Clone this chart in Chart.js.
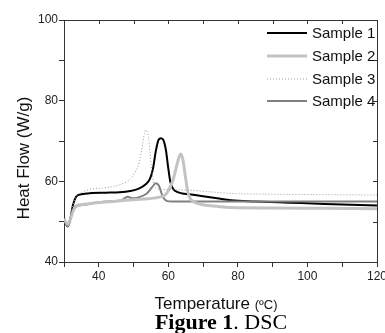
<!DOCTYPE html>
<html>
<head>
<meta charset="utf-8">
<script src="https://cdn.jsdelivr.net/npm/chart.js@4"></script>
<style>
  body { margin: 0; background: #fff; }
  canvas { display: block; }
</style>
</head>
<body>
<canvas id="dsc" width="385" height="333"></canvas>
<script>
// series data (temperature in C, heat flow in W/g)
const seriesNames = ['Sample 1', 'Sample 2', 'Sample 3', 'Sample 4'];

const s1x = [30, 30.6, 31.1, 31.8, 32.6, 33.5, 35, 38, 42, 46, 49, 51.5, 53.5, 54.7, 55.6, 56.4, 57.2, 57.9, 58.6, 59.3, 59.9, 60.6, 61.4, 62.5, 64, 66, 70, 74, 78, 85, 95, 105, 120];
const s1y = [50.2, 49.3, 48.8, 50.6, 54.2, 56.2, 56.8, 57.1, 57.2, 57.3, 57.6, 58.2, 59.3, 60.6, 63.2, 67.5, 70.3, 70.7, 70.2, 67.8, 63.8, 59.8, 58.1, 57.4, 57.0, 56.8, 56.3, 55.8, 55.3, 55.0, 54.7, 54.4, 54.0];

const s2x = [30, 30.6, 31.1, 31.8, 32.6, 33.5, 36, 39.3, 44, 48.8, 53, 56.4, 58, 59.3, 60.3, 61.3, 62.3, 63, 63.6, 64.2, 64.9, 65.6, 66.4, 67.5, 70, 74, 78, 90, 105, 120];
const s2y = [50.7, 49.8, 49.3, 50.5, 52.6, 53.9, 54.3, 54.7, 55.0, 55.4, 55.6, 55.9, 56.2, 56.8, 58.2, 60.2, 63.5, 65.8, 66.8, 65.3, 61.2, 57.4, 55.6, 54.8, 54.2, 53.8, 53.5, 53.4, 53.3, 53.2];

const s3x = [30, 30.6, 31.1, 31.8, 32.6, 33.5, 35, 37.3, 41, 44, 46.5, 48.8, 50.3, 51.6, 52.5, 53.1, 53.5, 54, 54.5, 55, 55.5, 55.9, 56.6, 57.8, 62, 66, 72, 78, 90, 105, 120];
const s3y = [50.2, 49.3, 48.8, 50.6, 54.2, 56.2, 57.2, 58.0, 58.3, 58.7, 59.3, 60.3, 62.0, 64.6, 68.5, 71.8, 72.7, 72.0, 69.5, 64.5, 61.2, 59.1, 58.3, 58.0, 57.9, 57.8, 57.4, 57.0, 56.8, 56.7, 56.6];

const s4x = [30, 30.6, 31.1, 31.8, 32.6, 33.5, 36, 39.3, 44, 46.5, 48.3, 49.3, 50.2, 52, 53.8, 55.2, 56.4, 57.3, 58.3, 59.1, 59.7, 61, 65, 75, 90, 105, 120];
const s4y = [50.4, 49.4, 48.9, 50.6, 52.8, 53.7, 54.2, 54.7, 55.1, 55.3, 56.2, 55.9, 55.8, 56.2, 57.0, 58.4, 59.5, 58.9, 56.4, 55.4, 55.1, 55.0, 55.0, 55.0, 55.0, 55.0, 55.0];

const xTicks = [40, 60, 80, 100, 120];
const yTicks = [40, 60, 80, 100];

function pts(xs, ys) {
    return xs.map((x, i) => ({ x: x, y: ys[i] }));
}

const styles = [
    { color: '#000000', width: 2, dash: [] },
    { color: '#c3c3c3', width: 3, dash: [] },
    { color: '#9a9a9a', width: 1, dash: [1, 2] },
    { color: '#808080', width: 2, dash: [] }
];
const allData = [pts(s1x, s1y), pts(s2x, s2y), pts(s3x, s3y), pts(s4x, s4y)];

// draw order: lighter ones under the black curve
const order = [2, 1, 3, 0];
const datasets = order.map(i => ({
    label: seriesNames[i],
    data: allData[i],
    borderColor: styles[i].color,
    borderWidth: styles[i].width,
    borderDash: styles[i].dash,
    pointRadius: 0,
    fill: false,
    cubicInterpolationMode: 'monotone'
}));

// frame, inner ticks, legend and titles
const decor = {
    id: 'decor',
    afterDraw(chart) {
        const ctx = chart.ctx;
        const ca = chart.chartArea;
        const xs = chart.scales.x;
        const ys = chart.scales.y;
        ctx.save();
        ctx.strokeStyle = '#333';
        ctx.lineWidth = 1;
        ctx.beginPath();
        ctx.moveTo(ca.left, ca.top + 0.5);
        ctx.lineTo(ca.right + 0.5, ca.top + 0.5);
        ctx.lineTo(ca.right + 0.5, ca.bottom);
        xs.ticks.forEach(t => {
            const px = Math.round(xs.getPixelForValue(t.value)) + 0.5;
            ctx.moveTo(px, ca.top);
            ctx.lineTo(px, ca.top + 4);
        });
        ys.ticks.forEach(t => {
            const py = Math.round(ys.getPixelForValue(t.value)) + 0.5;
            ctx.moveTo(ca.right, py);
            ctx.lineTo(ca.right - 4, py);
        });
        ctx.stroke();

        // legend
        const rows = [33, 56, 79, 101];
        for (let i = 0; i < 4; i++) {
            const st = styles[i];
            ctx.strokeStyle = st.color;
            ctx.lineWidth = st.width;
            ctx.setLineDash(st.dash);
            ctx.beginPath();
            ctx.moveTo(267, rows[i]);
            ctx.lineTo(307, rows[i]);
            ctx.stroke();
            ctx.setLineDash([]);
            ctx.fillStyle = '#111';
            ctx.font = '15px "Liberation Sans", Arial, sans-serif';
            ctx.textAlign = 'left';
            ctx.textBaseline = 'middle';
            ctx.fillText(seriesNames[i], 312, rows[i] + 1);
        }

        // y title
        ctx.fillStyle = '#111';
        ctx.save();
        ctx.translate(29, 158);
        ctx.rotate(-Math.PI / 2);
        ctx.font = '17px "Liberation Sans", Arial, sans-serif';
        ctx.textAlign = 'center';
        ctx.textBaseline = 'alphabetic';
        ctx.fillText('Heat Flow (W/g)', 0, 0);
        ctx.restore();

        // x title, unit in a smaller size
        ctx.textBaseline = 'alphabetic';
        ctx.textAlign = 'left';
        const big = '17px "Liberation Sans", Arial, sans-serif';
        const small = '13px "Liberation Sans", Arial, sans-serif';
        ctx.font = big;
        const w1 = ctx.measureText('Temperature ').width;
        ctx.font = small;
        const w2 = ctx.measureText('(\u00baC)').width;
        let x0 = 216 - (w1 + w2) / 2;
        ctx.font = big;
        ctx.fillText('Temperature ', x0, 309);
        ctx.font = small;
        ctx.fillText('(\u00baC)', x0 + w1, 309);

        // caption
        const bold = 'bold 22px "Liberation Serif", "Times New Roman", serif';
        const reg = '22px "Liberation Serif", "Times New Roman", serif';
        ctx.font = bold;
        const c1 = ctx.measureText('Figure 1').width;
        ctx.font = reg;
        const c2 = ctx.measureText('. DSC').width;
        x0 = 221 - (c1 + c2) / 2;
        ctx.fillStyle = '#000';
        ctx.font = bold;
        ctx.fillText('Figure 1', x0, 329);
        ctx.font = reg;
        ctx.fillText('. DSC', x0 + c1, 329);
        ctx.restore();
    }
};

new Chart(document.getElementById('dsc').getContext('2d'), {
    type: 'line',
    data: { datasets: datasets },
    options: {
        responsive: false,
        animation: false,
        layout: { padding: { top: 20, right: 8, left: 0, bottom: 0 } },
        scales: {
            x: {
                type: 'linear',
                min: 30,
                max: 120,
                afterFit: (s) => { s.height = 71; s.paddingLeft = 0; s.paddingRight = 0; },
                border: { display: true, color: '#333', width: 1 },
                grid: { drawOnChartArea: false, drawTicks: true, tickLength: 5, color: '#333' },
                ticks: {
                    stepSize: 10,
                    autoSkip: false,
                    maxRotation: 0,
                    padding: 2,
                    color: '#222',
                    font: { family: '"Liberation Sans", Arial, sans-serif', size: 12 },
                    callback: (v) => xTicks.includes(v) ? String(v) : ''
                }
            },
            y: {
                min: 40,
                max: 100,
                afterFit: (s) => { s.width = 64; s.paddingTop = 0; s.paddingBottom = 0; },
                border: { display: true, color: '#333', width: 1 },
                grid: { drawOnChartArea: false, drawTicks: true, tickLength: 5, color: '#333' },
                ticks: {
                    stepSize: 10,
                    autoSkip: false,
                    padding: 1,
                    color: '#222',
                    font: { family: '"Liberation Sans", Arial, sans-serif', size: 12 },
                    callback: (v) => yTicks.includes(v) ? String(v) : ''
                }
            }
        },
        plugins: {
            legend: { display: false },
            tooltip: { enabled: false }
        }
    },
    plugins: [decor]
});
</script>
</body>
</html>
